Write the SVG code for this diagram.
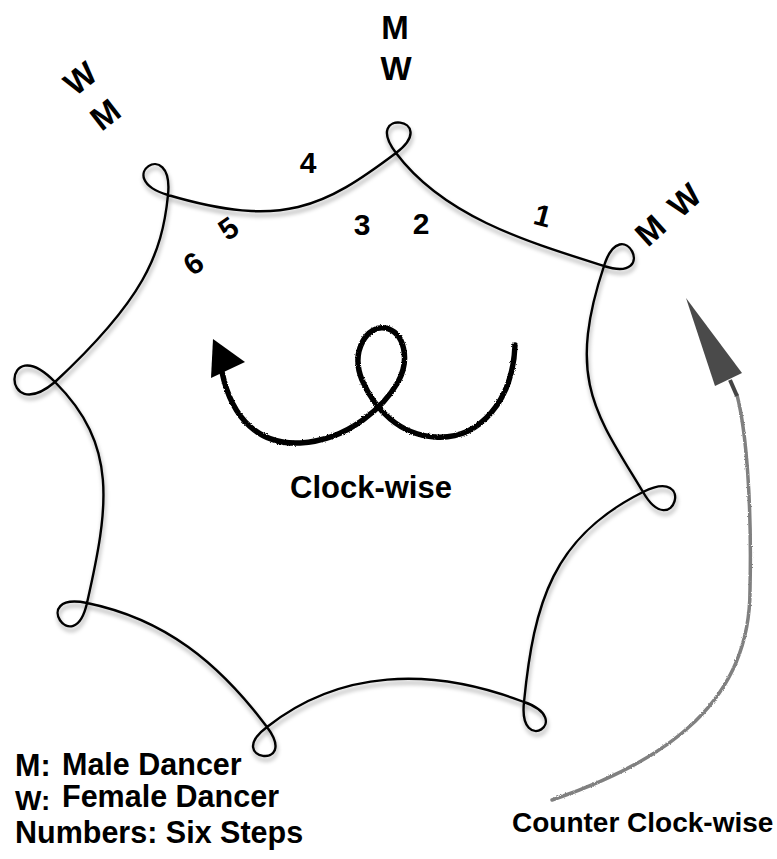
<svg xmlns="http://www.w3.org/2000/svg" width="777" height="859" viewBox="0 0 777 859">
  <style>
    .t { font-family: "Liberation Sans", Arial, Helvetica, sans-serif; font-weight: bold; fill: #000; }
    .lbl { font-size: 33px; text-anchor: middle; }
    .num { font-size: 30px; text-anchor: middle; }
    .leg { font-size: 30.5px; }
    .path { fill: none; stroke: #000; stroke-width: 2.4; stroke-linejoin: round; stroke-linecap: round; }
  </style>
  <defs>
    <filter id="shadow" x="-10%" y="-10%" width="120%" height="120%">
      <feDropShadow dx="1" dy="4" stdDeviation="2" flood-color="#000" flood-opacity="0.35"/>
    </filter>
    <filter id="rough" x="-10%" y="-10%" width="120%" height="120%">
      <feTurbulence type="fractalNoise" baseFrequency="0.9" numOctaves="2" seed="3" result="n"/>
      <feDisplacementMap in="SourceGraphic" in2="n" scale="2.5" xChannelSelector="R" yChannelSelector="G"/>
    </filter>
  </defs>
  <rect width="777" height="859" fill="#fff"/>

  <g id="dance-path" filter="url(#shadow)">
    <path class="path" d="M168,195
      C283,229 324,207 396,153
      C442,118 361,107 396,153
      C444,217 528,242 604,266
      C661,284 622,209 604,266
      C566,380 596,414 643,492
      C673,544 697,465 643,492
      C553,537 534,602 524,702
      C518,757 576,720 524,702
      C430,666 339,670 267,727
      C223,760 300,771 267,727
      C219,663 165,619 87,603
      C28,591 74,661 87,603
      C109,506 118,445 55,382
      C2,328 0,428 55,382
      C143,300 162,255 168,195
      C174,135 110,178 168,195 Z"/>
  </g>

  <g id="labels-top">
    <text class="t lbl" x="395" y="39">M</text>
    <text class="t lbl" x="396" y="80">W</text>
  </g>
  <g id="labels-left">
    <text class="t lbl" transform="translate(80,78) rotate(-38)" y="12">W</text>
    <text class="t lbl" transform="translate(105,114) rotate(-38)" y="12">M</text>
  </g>
  <g id="labels-right">
    <text class="t lbl" transform="translate(650,230) rotate(-42)" y="12">M</text>
    <text class="t lbl" transform="translate(684,200) rotate(-42)" y="12">W</text>
  </g>

  <g id="steps">
    <text class="t num" x="543" y="226" transform="rotate(15 543 215)">1</text>
    <text class="t num" x="421" y="234">2</text>
    <text class="t num" x="362" y="235">3</text>
    <text class="t num" x="308" y="173">4</text>
    <text class="t num" transform="translate(228,228) rotate(-35)" y="11">5</text>
    <text class="t num" transform="translate(193,263) rotate(-35)" y="11">6</text>
  </g>

  <g id="clockwise-symbol">
    <path filter="url(#rough)" fill="none" stroke="#000" stroke-width="5.5" stroke-linecap="round"
      d="M515,345 C513,400 480,440 435,437 C400,435 375,410 362,380 C350,350 368,325 385,328 C405,332 410,360 398,382 C385,405 350,440 300,443 C260,445 232,420 222,372"/>
    <polygon points="213,339 245,362 211,378" fill="#000"/>
    <text class="t" x="371" y="498" font-size="31" text-anchor="middle">Clock-wise</text>
  </g>

  <g id="ccw-arrow">
    <path filter="url(#rough)" fill="none" stroke="#808080" stroke-width="3.5" stroke-linecap="round"
      d="M552,800 C670,760 750,700 750,590 C752,500 746,430 737,395"/>
    <line x1="737" y1="396" x2="730" y2="380" stroke="#444" stroke-width="4"/>
    <polygon points="686,298 742,373 715,386" fill="#4a4a4a"/>
    <text class="t" x="512" y="832" font-size="28">Counter Clock-wise</text>
  </g>

  <g id="legend">
    <text class="t" x="15" y="776" font-size="30.5">M:</text>
    <text class="t leg" x="62" y="775">Male Dancer</text>
    <text class="t" x="15" y="810" font-size="28">W:</text>
    <text class="t leg" x="62" y="807">Female Dancer</text>
    <text class="t leg" x="15" y="843">Numbers: Six Steps</text>
  </g>
</svg>
